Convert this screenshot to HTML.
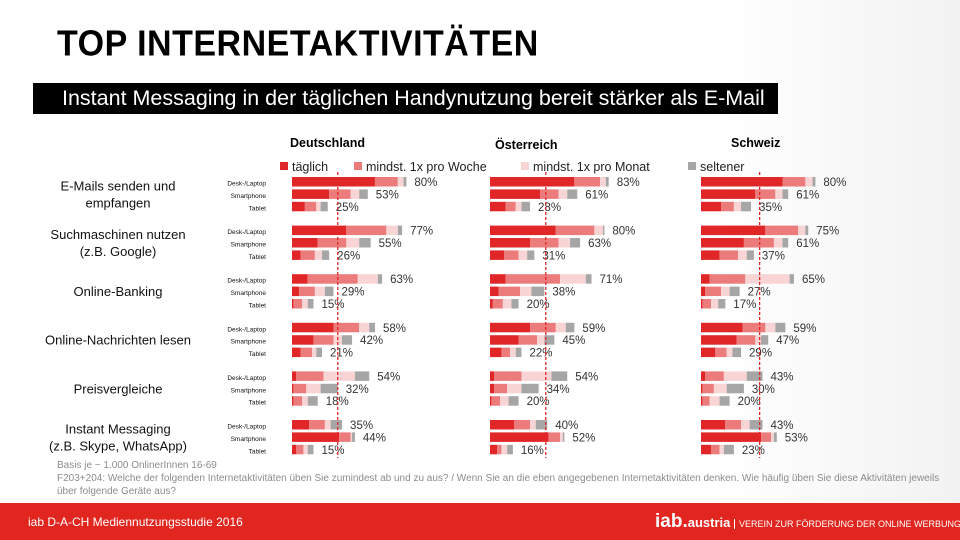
<!DOCTYPE html>
<html><head><meta charset="utf-8">
<style>
html,body{margin:0;padding:0;}
body{width:960px;height:540px;position:relative;overflow:hidden;background:linear-gradient(90deg,#fff 0%,#fff 75%,#f2f2f2 100%);font-family:"Liberation Sans",sans-serif;}
.abs{position:absolute;white-space:nowrap;}
</style></head><body>
<div class="abs" style="left:57px;top:25px;font-size:34px;font-weight:bold;color:#000;letter-spacing:0.5px;transform:scaleY(1.05);">TOP INTERNETAKTIVITÄTEN</div>
<div class="abs" style="left:33px;top:83px;width:745px;height:31px;background:#000;"></div>
<div class="abs" style="left:62px;top:86px;font-size:21.5px;color:#fff;">Instant Messaging in der täglichen Handynutzung bereit stärker als E-Mail</div>
<svg id="chart" width="960" height="540" style="position:absolute;left:0;top:0;" xmlns="http://www.w3.org/2000/svg"></svg>
<div class="abs" style="left:57px;top:459px;font-size:10px;line-height:13px;color:#8c8c8c;white-space:normal;width:900px;">Basis je ~ 1.000 OnlinerInnen 16-69<br>F203+204: Welche der folgenden Internetaktivitäten üben Sie zumindest ab und zu aus? / Wenn Sie an die eben angegebenen Internetaktivitäten denken. Wie häufig üben Sie diese Aktivitäten jeweils über folgende Geräte aus?</div>
<div class="abs" style="left:0;top:503px;width:960px;height:37px;background:#e1251f;"></div>
<div class="abs" style="left:28px;top:515px;font-size:12px;color:#fff;">iab D-A-CH Mediennutzungsstudie 2016</div>
<div class="abs" style="left:655px;top:511px;font-size:19px;font-weight:bold;color:#fff;">iab.<span style="font-size:13px;">austria</span></div>
<div class="abs" style="left:734px;top:519px;font-size:9px;color:#fff;border-left:1px solid #fff;padding-left:4px;">VEREIN ZUR FÖRDERUNG DER ONLINE WERBUNG</div>
<script>
const countries = ["Deutschland","Österreich","Schweiz"];
const activities = ["E-Mails senden und|empfangen","Suchmaschinen nutzen|(z.B. Google)","Online-Banking","Online-Nachrichten lesen","Preisvergleiche","Instant Messaging|(z.B. Skype, WhatsApp)"];
const devices = ["Desk-/Laptop","Smartphone","Tablet"];
const seriesNames = ["täglich","mindst. 1x pro Woche","mindst. 1x pro Monat","seltener"];
// [täglich, woche, monat, seltener] per activity x device
const valuesDE = [
 [[58,16,4,2],[26,15,6,6],[9,8,3,5]],
 [[38,28,8,3],[18,20,9,8],[6,10,5,5]],
 [[11,35,14,3],[5,11,7,6],[1,6,4,4]],
 [[29,18,7,4],[15,14,6,7],[6,8,3,4]],
 [[3,19,22,10],[1,9,10,12],[1,6,4,7]],
 [[12,11,4,8],[33,8,1,2],[3,5,3,4]]
];
const valuesAT = [
 [[59,18,4,2],[35,13,6,7],[11,7,4,6]],
 [[46,27,6,1],[28,20,8,7],[10,10,6,5]],
 [[11,38,18,4],[6,15,8,9],[2,7,6,5]],
 [[28,18,7,6],[20,13,5,7],[8,6,4,4]],
 [[3,19,21,11],[3,9,10,12],[1,6,6,7]],
 [[17,11,4,8],[41,8,2,1],[5,3,4,4]]
];
const valuesCH = [
 [[57,16,5,2],[38,14,5,4],[14,9,5,7]],
 [[45,23,5,2],[30,21,6,4],[13,13,6,5]],
 [[6,25,31,3],[3,11,6,7],[1,6,5,5]],
 [[29,16,7,7],[25,13,4,5],[10,8,4,6]],
 [[3,13,16,11],[1,8,9,12],[1,5,7,7]],
 [[17,11,6,9],[42,7,2,2],[7,6,3,7]]
];
const totalLabelsDE = ["80%","53%","25%","77%","55%","26%","63%","29%","15%","58%","42%","21%","54%","32%","18%","35%","44%","15%"];
const totalLabelsAT = ["83%","61%","28%","80%","63%","31%","71%","38%","20%","59%","45%","22%","54%","34%","20%","40%","52%","16%"];
const totalLabelsCH = ["80%","61%","35%","75%","61%","37%","65%","27%","17%","59%","47%","29%","43%","30%","20%","43%","53%","23%"];
const refLine = [32,39,41];

const allValues=[valuesDE,valuesAT,valuesCH];
const allLabels=[totalLabelsDE,totalLabelsAT,totalLabelsCH];
const colors=["#e02626","#ec7b7b","#f8d4d5","#a6a6a6"];
const panelX=[292,490,701];
const pxPer=1.43;
const xs=(p,v)=>panelX[p]+v*pxPer;
const groupY=g=>181.5+g*48.6;
const rowY=(g,d)=>groupY(g)+d*12.4;
const NS="http://www.w3.org/2000/svg";
const svg=document.getElementById('chart');
function mk(tag,attrs,txt){const e=document.createElementNS(NS,tag);for(const k in attrs)e.setAttribute(k,attrs[k]);if(txt!==undefined)e.textContent=txt;svg.appendChild(e);return e;}

const headerX=[290,495,731],headerY=147;
countries.forEach((c,i)=>{const t=mk('text',{x:headerX[i],y:headerY+(i===1?2:0),'font-size':12.5,'font-weight':'bold',fill:'#000'},c);

});
const legX=[280,354,521,688];
seriesNames.forEach((s,i)=>{
 const r=mk('rect',{x:legX[i],y:162,width:8,height:8,fill:colors[i]});
 
 
 const t=mk('text',{x:legX[i]+12,y:171,'font-size':12.5,fill:'#222'},s);
 
 
});
activities.forEach((a,g)=>{
 const lines=a.split('|');
 lines.forEach((l,k)=>{
  const y=groupY(g)+12.4+5-(lines.length-1)*8.5+k*17;
  const t=mk('text',{x:118,y:y,'font-size':13,'text-anchor':'middle',fill:'#111'},l);
  
  
 });
 devices.forEach((d,di)=>{
  const t=mk('text',{x:266,y:rowY(g,di)+4,'font-size':6.5,'text-anchor':'end',fill:'#111'},d);
  
  
 });
});
allValues.forEach((vals,p)=>{
 vals.forEach((grp,g)=>{
  grp.forEach((segs,di)=>{
   let acc=0;
   const y=rowY(g,di)-4.5;
   segs.forEach((v,si)=>{
    const r=mk('rect',{x:xs(p,acc),y:y,width:Math.max(0,xs(p,acc+v)-xs(p,acc)),height:9.5,fill:colors[si]});
    
    
    acc+=v;
   });
   const t=mk('text',{x:xs(p,acc)+8,y:rowY(g,di)+4.5,'font-size':11.5,fill:'#333'},allLabels[p][g*3+di]);
   
   
  });
 });
 const l=mk('line',{x1:xs(p,refLine[p]),x2:xs(p,refLine[p]),y1:172,y2:458,stroke:'#e02626','stroke-width':1.3,'stroke-dasharray':'3,2'});
 
 
});
</script>
</body></html>
